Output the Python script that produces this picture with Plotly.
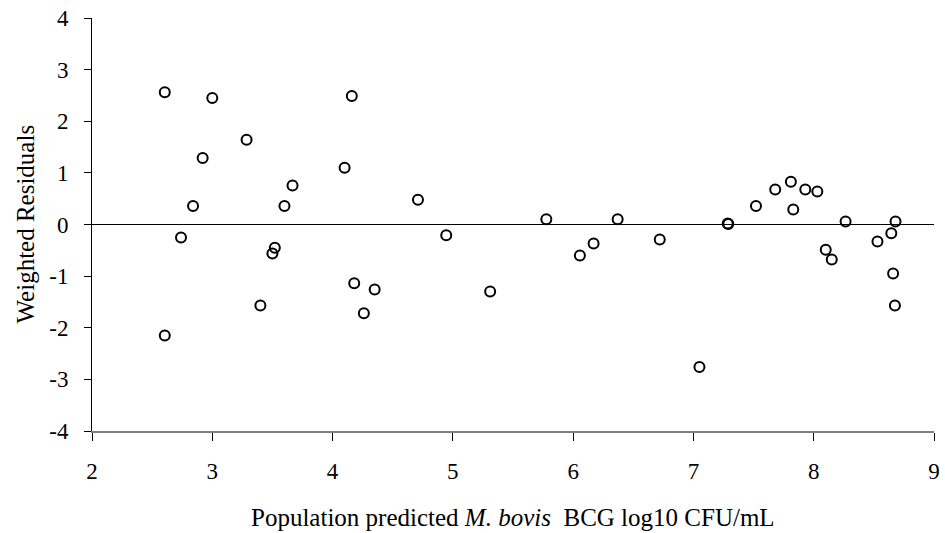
import plotly.graph_objects as go

pred = [2.605, 3.00, 4.16, 3.285, 2.92, 4.10, 3.667, 2.84, 3.60, 4.71, 2.74, 4.945,
        3.52, 3.50, 2.605, 3.40, 4.18, 4.35, 4.26,
        5.31, 5.777, 6.37, 6.056, 6.17, 6.72, 7.05, 7.285, 7.29, 7.52, 7.83,
        8.265, 8.10, 8.15, 8.53, 8.645, 8.68, 8.66, 8.675,
        7.68, 7.81, 7.93, 8.03]
wres = [2.56, 2.45, 2.49, 1.64, 1.29, 1.10, 0.755, 0.36, 0.36, 0.48, -0.25, -0.21,
        -0.45, -0.56, -2.15, -1.57, -1.14, -1.26, -1.72,
        -1.30, 0.10, 0.10, -0.60, -0.37, -0.29, -2.76, 0.02, 0.01, 0.36, 0.29,
        0.06, -0.49, -0.68, -0.33, -0.17, 0.06, -0.95, -1.57,
        0.68, 0.83, 0.68, 0.64]

xticks = [2, 3, 4, 5, 6, 7, 8, 9]
yticks = [-4, -3, -2, -1, 0, 1, 2, 3, 4]
ylabels = [str(v) for v in yticks]
xtitle = "Population predicted <i>M. bovis</i>  BCG log10 CFU/mL"
ytitle = "Weighted Residuals"

fig = go.Figure()
fig.add_trace(go.Scatter(
    x=pred, y=wres, mode="markers",
    marker=dict(symbol="circle-open", size=10, color="black", line=dict(width=2, color="black")),
    showlegend=False, cliponaxis=False))

serif = "Liberation Serif, Times New Roman, serif"
tickfont = dict(family=serif, size=23, color="black")
titlefont = dict(family=serif, size=25, color="black")
fig.update_layout(
    width=945, height=533,
    margin=dict(l=92, r=11, t=18, b=102),
    paper_bgcolor="white", plot_bgcolor="white",
    font=tickfont,
    xaxis=dict(range=[2, 9], tickvals=xticks, ticktext=[str(v) for v in xticks],
               automargin=False,
               showgrid=False, zeroline=False, showline=True, linecolor="#808080", linewidth=2,
               ticks="outside", ticklen=8, tickcolor="black", tickwidth=1,
               tickfont=tickfont, ticklabelstandoff=10),
    yaxis=dict(range=[-4, 4], tickvals=yticks, ticktext=ylabels,
               automargin=False,
               showgrid=False, zeroline=True, zerolinecolor="black", zerolinewidth=1,
               showline=True, linecolor="black", linewidth=1,
               ticks="outside", ticklen=7, tickcolor="black", tickwidth=1,
               tickfont=tickfont, ticklabelstandoff=11),
    annotations=[
        dict(text=xtitle, xref="paper", yref="paper", x=0.5, y=0,
             xanchor="center", yanchor="middle", yshift=-86,
             showarrow=False, font=titlefont),
        dict(text=ytitle, xref="paper", yref="paper", x=0, y=0.5,
             xanchor="center", yanchor="middle", xshift=-67, textangle=-90,
             showarrow=False, font=titlefont),
    ],
)
fig.write_html("out.html")
